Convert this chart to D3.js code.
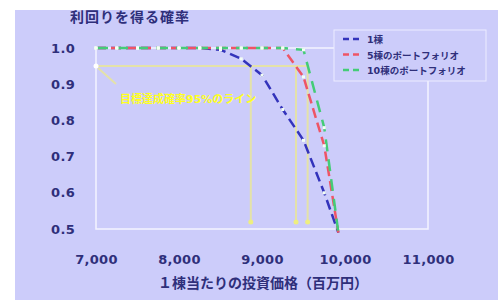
<!DOCTYPE html>
<html><head><meta charset="utf-8">
<script src="https://cdn.jsdelivr.net/npm/d3@7"></script>
<style>body{margin:0;background:#fff;}svg{display:block;font-family:"DejaVu Sans","Noto Sans CJK JP",sans-serif;}</style>
</head><body><svg id="c" width="498" height="300"></svg>
<script>
const xTicks = [7000, 8000, 9000, 10000, 11000];
const yTicks = [0.5, 0.6, 0.7, 0.8, 0.9, 1.0];
const seriesNames = ["1棟", "5棟のポートフォリオ", "10棟のポートフォリオ"];
const xBlue  = [7000, 7250, 7500, 7750, 8000, 8250, 8500, 8750, 9000, 9250, 9500, 9750, 9920];
const yBlue  = [1.0, 1.0, 1.0, 1.0, 1.0, 1.0, 0.995, 0.97, 0.925, 0.83, 0.745, 0.6, 0.49];
const xRed   = [7000, 7250, 7500, 7750, 8000, 8250, 8500, 8750, 9000, 9250, 9500, 9750, 9920];
const yRed   = [1.0, 1.0, 1.0, 1.0, 1.0, 1.0, 1.0, 1.0, 1.0, 1.0, 0.92, 0.73, 0.49];
const xGreen = [7000, 7250, 7500, 7750, 8000, 8250, 8500, 8750, 9000, 9250, 9500, 9750, 9920];
const yGreen = [1.0, 1.0, 1.0, 1.0, 1.0, 1.0, 1.0, 1.0, 1.0, 1.0, 0.995, 0.78, 0.49];
const level = 0.95;
const crossX = [8865, 9410, 9550];
const noteText = "目標達成確率95%のライン";
const title = "利回りを得る確率";
const xTitle = "１棟当たりの投資価格（百万円）";

const svg = d3.select("#c");
const navy = "#2f2f7a";
svg.append("rect").attr("x", 15).attr("y", 10).attr("width", 483).attr("height", 290).attr("fill", "#ccccfa");

const x = d3.scaleLinear().domain([7000, 11000]).range([96, 428]);
const y = d3.scaleLinear().domain([0.5, 1.0]).range([229, 48]);

// plot frame
svg.append("rect").attr("x", x(7000)).attr("y", y(1)).attr("width", x(11000) - x(7000)).attr("height", y(0.5) - y(1))
  .attr("fill", "none").attr("stroke", "#f4f4ff").attr("stroke-width", 1.5);

// axes
const xa = svg.append("g").attr("transform", `translate(0,${y(0.5) + 23})`)
  .call(d3.axisBottom(x).tickValues(xTicks).tickSize(0).tickFormat(d3.format(",")));
const ya = svg.append("g").attr("transform", `translate(${x(7000) - 18},0)`)
  .call(d3.axisLeft(y).tickValues(yTicks).tickSize(0).tickFormat(d3.format(".1f")));
[xa, ya].forEach(a => {
  a.select(".domain").remove();
  a.selectAll("text").attr("fill", navy).attr("font-size", 13).attr("font-weight", "bold")
    .attr("font-family", "DejaVu Sans").attr("letter-spacing", 0.3);
});

// yellow guide lines
const pale = "#e4e2a8";
svg.append("line").attr("x1", x(7000)).attr("x2", x(d3.max(crossX))).attr("y1", y(level)).attr("y2", y(level))
  .attr("stroke", pale).attr("stroke-width", 2);
crossX.forEach(cx => {
  svg.append("line").attr("x1", x(cx)).attr("x2", x(cx)).attr("y1", y(level)).attr("y2", y(0.5) - 6)
    .attr("stroke", pale).attr("stroke-width", 2);
  svg.append("circle").attr("cx", x(cx)).attr("cy", y(0.5) - 7).attr("r", 2.5).attr("fill", "#eeee80");
});
svg.append("line").attr("x1", x(7000) + 2).attr("y1", y(level) + 2).attr("x2", x(7000) + 20).attr("y2", y(level) + 18)
  .attr("stroke", pale).attr("stroke-width", 2);
svg.append("circle").attr("cx", x(7000)).attr("cy", y(level)).attr("r", 2.5).attr("fill", "#fff");
svg.append("text").attr("x", 120).attr("y", 103).attr("fill", "#ffff22").attr("font-size", 11)
  .attr("font-weight", "bold").text(noteText);

// series (blue first so green stays on top at 1.0)
const series = [
  {xs: xBlue, ys: yBlue, color: "#3333bb", dash: "10,5"},
  {xs: xRed, ys: yRed, color: "#ee5566", dash: "10,5"},
  {xs: xGreen, ys: yGreen, color: "#44cc77", dash: "12,8"}
];
const line = d3.line().x(d => x(d[0])).y(d => y(d[1]));
series.forEach(s => {
  const pts = s.xs.map((v, i) => [v, s.ys[i]]);
  svg.append("path").datum(pts).attr("d", line).attr("fill", "none")
    .attr("stroke", s.color).attr("stroke-width", 2.5).attr("stroke-dasharray", s.dash);
});
series.forEach(s => {
  const pts = s.xs.map((v, i) => [v, s.ys[i]]);
  svg.selectAll(null).data(pts.slice(0, -1)).enter().append("rect")
    .attr("x", d => x(d[0]) - 1.5).attr("y", d => y(d[1]) - 1.5).attr("width", 3).attr("height", 3)
    .attr("fill", "#f4fff4");
});

// legend
const lg = svg.append("g");
lg.append("rect").attr("x", 334).attr("y", 30).attr("width", 152).attr("height", 51)
  .attr("fill", "#ccccfa").attr("stroke", "#ececff").attr("stroke-width", 1);
const lcol = ["#3333bb", "#ee5566", "#44cc77"];
seriesNames.forEach((n, i) => {
  const yy = 39 + i * 15.5;
  lg.append("line").attr("x1", 343).attr("x2", 363).attr("y1", yy).attr("y2", yy)
    .attr("stroke", lcol[i]).attr("stroke-width", 2.5).attr("stroke-dasharray", "6,4");
  lg.append("text").attr("x", 367).attr("y", yy + 4).attr("fill", navy).attr("font-size", 9.5)
    .attr("font-weight", "bold").text(n);
});

// titles
svg.append("text").attr("x", 70).attr("y", 22).attr("fill", navy).attr("font-size", 14)
  .attr("letter-spacing", 1).attr("font-weight", "bold").text(title);
svg.append("text").attr("x", 263).attr("y", 288).attr("text-anchor", "middle").attr("fill", navy)
  .attr("font-size", 14).attr("font-weight", "bold").text(xTitle);
</script></body></html>
